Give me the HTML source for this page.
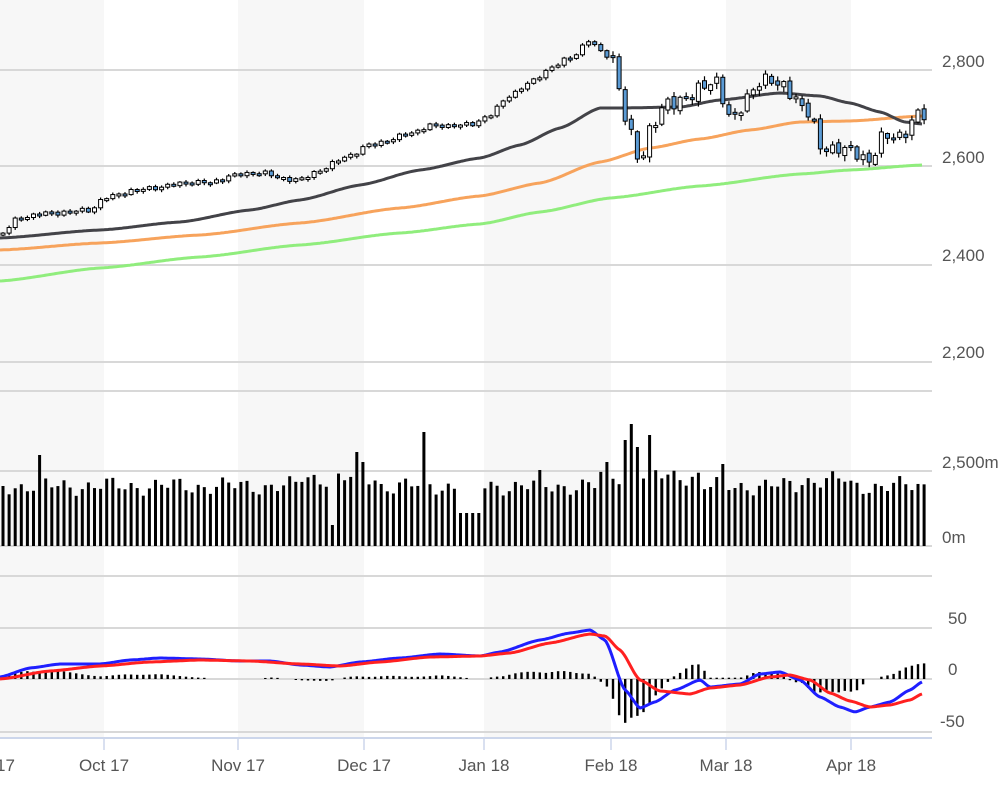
<!DOCTYPE html>
<html><head><meta charset="utf-8"><style>
html,body{margin:0;padding:0;background:#fff;width:1000px;height:795px;overflow:hidden}
svg{display:block;font-family:"Liberation Sans",sans-serif}
</style></head><body>
<svg id="c" width="1000" height="795" xmlns="http://www.w3.org/2000/svg">
<g id="bands"></g>
<g stroke="#d8d8d8" stroke-width="2">
<line x1="0" y1="70" x2="932" y2="70"/><line x1="0" y1="166" x2="932" y2="166"/>
<line x1="0" y1="265" x2="932" y2="265"/><line x1="0" y1="362" x2="932" y2="362"/>
<line x1="0" y1="391" x2="932" y2="391"/><line x1="0" y1="471" x2="932" y2="471"/>
<line x1="0" y1="546" x2="932" y2="546"/><line x1="0" y1="576" x2="932" y2="576"/>
<line x1="0" y1="628" x2="932" y2="628"/><line x1="0" y1="679" x2="932" y2="679"/>
<line x1="0" y1="732" x2="932" y2="732"/>
</g>
<line x1="0" y1="738" x2="932" y2="738" stroke="#ccd6eb" stroke-width="2"/>
<g stroke="#ccd6eb" stroke-width="1.5">
<line x1="104" y1="738" x2="104" y2="750"/><line x1="238" y1="738" x2="238" y2="750"/>
<line x1="364" y1="738" x2="364" y2="750"/><line x1="484" y1="738" x2="484" y2="750"/>
<line x1="611" y1="738" x2="611" y2="750"/><line x1="726" y1="738" x2="726" y2="750"/>
<line x1="851" y1="738" x2="851" y2="750"/>
</g>
<g id="vol"></g><g id="hist"></g><g id="ma"></g><g id="candles"></g><g id="macd"></g>
<g fill="#555" font-size="17">
<text x="942" y="67">2,800</text><text x="942" y="163">2,600</text>
<text x="942" y="261">2,400</text><text x="942" y="358">2,200</text>
<text x="942" y="468">2,500m</text><text x="942" y="543">0m</text>
<text x="948" y="624">50</text><text x="948" y="675">0</text><text x="940" y="727">-50</text>
</g>
<g fill="#555" font-size="17" text-anchor="middle">
<text x="-12" y="771">Sep 17</text><text x="104" y="771">Oct 17</text><text x="238" y="771">Nov 17</text>
<text x="364" y="771">Dec 17</text><text x="484" y="771">Jan 18</text><text x="611" y="771">Feb 18</text>
<text x="726" y="771">Mar 18</text><text x="851" y="771">Apr 18</text>
</g>
</svg>
<script>
(function(){
var NS="http://www.w3.org/2000/svg";
function el(p,t,a){var e=document.createElementNS(NS,t);for(var k in a)e.setAttribute(k,a[k]);document.getElementById(p).appendChild(e);return e;}
[[0,104],[238,364],[484,611],[726,851]].forEach(function(b){el("bands","rect",{x:b[0],y:0,width:b[1]-b[0],height:738,fill:"#f7f7f7"});});
function interp(pts,x){if(x<=pts[0][0])return pts[0][1];for(var i=1;i<pts.length;i++){if(x<=pts[i][0]){var a=pts[i-1],b=pts[i];var t=(x-a[0])/(b[0]-a[0]);t=t*t*(3-2*t)*0.5+t*0.5;return a[1]+(b[1]-a[1])*t;}}return pts[pts.length-1][1];}
function line(p,pts,col,w){var d="";for(var x=0;x<=922;x+=2){d+=(x?"L":"M")+x+" "+interp(pts,x).toFixed(1);}el(p,"path",{d:d,fill:"none",stroke:col,"stroke-width":w,"stroke-linejoin":"round"});}
var close=[[0,235],[20,217],[50,213],[90,210],[105,198],[130,191],[160,187],[190,182],[210,183],[230,176],[260,172],[280,178],[300,180],[320,170],[350,155],[370,145],[390,140],[410,133],[430,126],[470,125],[490,115],[510,95],[530,83],[550,68],[570,58],[590,40],[600,52],[615,58],[620,95],[628,130],[640,160],[650,130],[670,100],[690,100],[705,82],[715,80],[730,120],[745,100],[760,85],[770,75],[780,85],[795,100],[810,110],[820,150],[830,150],[840,145],[855,155],[870,160],[880,140],[900,135],[920,115]];
var black=[[0,238],[100,230],[180,222],[250,210],[300,200],[360,185],[420,170],[480,158],[520,145],[560,128],[600,108],[620,108],[680,107],[720,100],[780,93],[820,96],[850,103],[880,112],[905,122],[922,124]];
var orange=[[0,250],[100,243],[200,235],[300,223],[400,208],[480,196],[540,183],[600,162],[650,148],[700,139],[750,130],[800,122],[850,121],[922,116]];
var green=[[0,281],[100,268],[200,257],[300,245],[400,233],[480,224],[540,212],[610,198],[700,186],[800,174],[850,170],[922,165]];
line("ma",green,"#90ed7d",3);line("ma",orange,"#f7a35c",3);line("ma",black,"#434348",3);
var blue=[[0,677],[30,668],[60,664],[100,664],[130,660],[160,658],[200,659],[240,661],[270,661],[300,665],[330,667],[360,662],[400,658],[440,654],[480,656],[500,652],[540,640],[570,633],[590,630],[605,640],[625,690],[640,708],[655,702],[675,690],[700,680],[710,687],[740,684],[760,674],[780,672],[800,680],[820,697],[840,707],[855,712],[870,707],[890,702],[910,690],[922,682]];
var red=[[0,679],[50,671],[100,666],[150,662],[200,660],[250,661],[300,664],[340,666],[380,662],[430,657],[480,656],[510,653],[550,643],[590,634],[605,636],[620,650],[640,680],[660,691],[690,694],[710,688],[740,685],[770,677],[790,675],[810,680],[830,693],[850,701],[870,707],[890,705],[910,700],[922,694]];
line("macd",blue,"#1f1fff",3);line("macd",red,"#ff2020",3);
var spikes={40:455,355:452,362:462,372:468,425:432,630:424,647:435,624:440,636:447,604:462,793:441,722:464,541:470};
var prev=null;
for(var i=0;i<152;i++){
 var x=3+i*6.1;
 var vol=(x>455&&x<480)?513:486+6*Math.sin(i*1.7)+4*Math.sin(i*0.63);
 if(x>300&&x<380)vol-=8; if(x>600&&x<700)vol-=10; if(x>800&&x<850)vol-=6;
 for(var k in spikes){if(Math.abs(x-k)<3)vol=spikes[k];}
 if(Math.abs(x-335)<3)vol=525;
 el("vol","rect",{x:x-1.5,y:vol,width:3,height:546-vol,fill:"#000"});
 var h=(interp(blue,x)-interp(red,x))*-1.3;
 if(Math.abs(h)>1)el("hist","rect",{x:x-1.2,y:h>0?679-h:679,width:2.4,height:Math.abs(h),fill:"#000"});
 var turb=(x>610)?6:1.8;
 var c=interp(close,x)+turb*Math.sin(i*2.3)+turb*0.5*Math.sin(i*5.1);
 var o=prev===null?c+2:prev+(turb>2?turb*0.4*Math.sin(i*3.7):0);
 var tp=Math.min(o,c),bt=Math.max(o,c);if(bt-tp<2){bt=tp+2;}
 var hi=tp-1-Math.abs(turb*0.6*Math.sin(i*1.3)),lo=bt+1+Math.abs(turb*0.8*Math.sin(i*0.9));
 el("candles","line",{x1:x,y1:hi,x2:x,y2:lo,stroke:"#000","stroke-width":1.2});
 el("candles","rect",{x:x-2,y:tp,width:4,height:bt-tp,fill:c>o?"#5b9bd5":"#fff",stroke:"#000","stroke-width":1});
 prev=c;
}
})();
</script>
</body></html>
